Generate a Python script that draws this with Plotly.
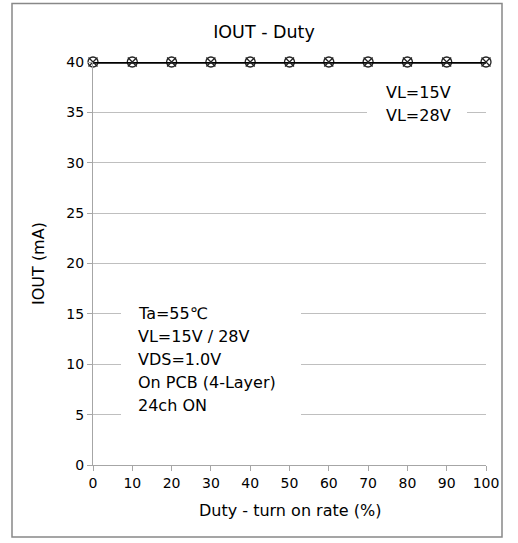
import plotly.graph_objects as go

duty = [0, 10, 20, 30, 40, 50, 60, 70, 80, 90, 100]
iout_15v = [40, 40, 40, 40, 40, 40, 40, 40, 40, 40, 40]
iout_28v = [40, 40, 40, 40, 40, 40, 40, 40, 40, 40, 40]
x_ticks = [0, 10, 20, 30, 40, 50, 60, 70, 80, 90, 100]
y_ticks = [0, 5, 10, 15, 20, 25, 30, 35, 40]
conditions = ["Ta=55℃", "VL=15V / 28V", "VDS=1.0V", "On PCB (4-Layer)", "24ch ON"]
legend_names = ["VL=15V", "VL=28V"]

FONT = "DejaVu Sans"
L, R, T, B = 93, 32, 62, 78
W, H = 518, 543
pw, ph = W - L - R, H - T - B

def px(x):
    return (x - L) / pw

def py(y):
    return (H - B - y) / ph

fig = go.Figure()
fig.add_trace(go.Scatter(x=duty, y=iout_15v, name=legend_names[0], mode="lines+markers",
                         line=dict(color="black", width=3),
                         marker=dict(symbol="circle-open", size=10, color="#222222", line=dict(width=1.3)),
                         cliponaxis=False))
fig.add_trace(go.Scatter(x=duty, y=iout_28v, name=legend_names[1], mode="lines+markers",
                         line=dict(color="black", width=3),
                         marker=dict(symbol="x-thin-open", size=9, color="#222222", line=dict(width=1.3)),
                         cliponaxis=False))

shapes = [
    dict(type="rect", xref="paper", yref="paper", x0=px(12), x1=px(502), y0=py(537), y1=py(3.5),
         line=dict(color="#888888", width=1.5), fillcolor="rgba(0,0,0,0)", layer="below"),
    dict(type="rect", xref="paper", yref="paper", x0=px(367), x1=px(467), y0=py(122), y1=py(80),
         line=dict(width=0), fillcolor="white", layer="above"),
    dict(type="rect", xref="paper", yref="paper", x0=px(121), x1=px(301), y0=py(420), y1=py(300),
         line=dict(width=0), fillcolor="white", layer="above"),
]

annotations = []
for i, name in enumerate(legend_names):
    annotations.append(dict(text=name, xref="paper", yref="paper", x=px(384), y=py(92 + 23 * i),
                            xanchor="left", yanchor="middle", showarrow=False,
                            font=dict(family=FONT, size=16, color="black")))
for i, line in enumerate(conditions):
    annotations.append(dict(text=line, xref="paper", yref="paper", x=px(136), y=py(313 + 23.2 * i),
                            xanchor="left", yanchor="middle", showarrow=False,
                            font=dict(family=FONT, size=16, color="black")))
annotations.append(dict(text="Duty - turn on rate (%)", xref="paper", yref="paper",
                        x=0.5, y=py(510), xanchor="center", yanchor="middle", showarrow=False,
                        font=dict(family=FONT, size=16, color="black")))
annotations.append(dict(text="IOUT (mA)", xref="paper", yref="paper", textangle=-90,
                        x=px(38), y=py(264), xanchor="center", yanchor="middle", showarrow=False,
                        font=dict(family=FONT, size=16, color="black")))

fig.update_layout(
    width=W, height=H,
    margin=dict(l=L, r=R, t=T, b=B, pad=0),
    paper_bgcolor="white", plot_bgcolor="white",
    showlegend=False,
    font=dict(family=FONT, size=14, color="black"),
    title=dict(text="IOUT - Duty", x=264 / W, xanchor="center", y=1 - 32 / H, yanchor="middle",
               font=dict(family=FONT, size=17.5, color="black")),
    xaxis=dict(range=[0, 100], tickvals=x_ticks, ticks="outside", ticklen=5, tickcolor="#a6a6a6",
               showline=True, linecolor="#a6a6a6", linewidth=1, showgrid=False, zeroline=False,
               tickfont=dict(size=14)),
    yaxis=dict(range=[0, 40], tickvals=y_ticks, ticks="outside", ticklen=5, tickcolor="#a6a6a6",
               showline=True, linecolor="#a6a6a6", linewidth=1, showgrid=True, gridcolor="#bfbfbf",
               zeroline=False, tickfont=dict(size=14)),
    shapes=shapes,
    annotations=annotations,
)

fig.write_html("out.html", config={"displayModeBar": False},
               post_script="document.body.style.margin='0';")
